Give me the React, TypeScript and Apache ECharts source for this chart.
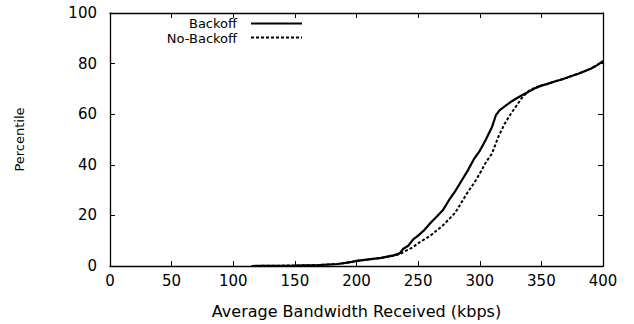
import React, { useEffect, useRef } from "react";
import * as echarts from "echarts";

const xTicks = [0, 50, 100, 150, 200, 250, 300, 350, 400];
const yTicks = [0, 20, 40, 60, 80, 100];

const backoffX = [115, 130, 150, 170, 185, 195, 200, 210, 220, 230, 235, 238, 242, 246, 250, 255, 260, 265, 270, 275, 280, 285, 290, 295, 300, 305, 310, 313, 316, 320, 325, 330, 335, 340, 345, 350, 355, 360, 365, 370, 375, 380, 385, 390, 395, 400];
const backoffY = [0, 0.1, 0.2, 0.4, 0.8, 1.5, 2, 2.6, 3.2, 4.2, 5, 6.8, 8, 10.5, 12, 14.2, 17, 19.5, 22, 26, 29.5, 33.5, 37.5, 42, 45.5, 50, 55, 59.5, 61.5, 63, 64.8, 66.3, 67.7, 69, 70.3, 71.3, 72, 72.8, 73.5, 74.3, 75.2, 76, 77, 78, 79.3, 81];

const noBackoffX = [115, 130, 150, 170, 185, 195, 200, 210, 220, 230, 235, 238, 242, 246, 250, 255, 260, 265, 270, 275, 280, 285, 290, 295, 300, 305, 310, 315, 320, 325, 330, 335, 340, 345, 350, 355, 360, 365, 370, 375, 380, 385, 390, 395, 400];
const noBackoffY = [0, 0.1, 0.2, 0.4, 0.8, 1.5, 2, 2.6, 3.2, 4, 4.7, 5.5, 6.5, 7.5, 9, 10.5, 12, 14, 16, 18.5, 21, 25, 29, 32.5, 36.5, 41, 44.5, 51, 56, 60, 63.5, 67, 69.3, 70.5, 71.3, 72, 72.8, 73.5, 74.3, 75.2, 76, 77, 78, 79.3, 81];

const seriesNames = ["Backoff", "No-Backoff"];

const FONT = "DejaVu Sans";

export default function App() {
  const ref = useRef<HTMLDivElement>(null);
  useEffect(() => {
    if (!ref.current) return;
    const chart = echarts.init(ref.current, null, { renderer: "svg" });
    const pairs = (xs: number[], ys: number[]) => xs.map((x, i) => [x, ys[i]]);
    const axisCommon = {
      type: "value" as const,
      splitLine: { show: false },
      axisLine: { show: true, onZero: false, lineStyle: { color: "#000", width: 1.3 } },
      axisTick: { show: true, inside: true, length: 5, lineStyle: { color: "#000" } },
    };
    chart.setOption({
      animation: false,
      backgroundColor: "#fff",
      grid: { left: 110, right: 31, top: 13, bottom: 46, containLabel: false },
      xAxis: [
        {
          ...axisCommon,
          min: 0,
          max: 400,
          interval: 50,
          position: "bottom",
          name: "Average Bandwidth Received (kbps)",
          nameLocation: "middle",
          nameGap: 37,
          nameTextStyle: { fontFamily: FONT, fontSize: 16, color: "#000" },
          axisLabel: { fontFamily: FONT, fontSize: 15, color: "#000", margin: 7,
            formatter: (v: number) => (xTicks.includes(v) ? String(v) : "") },
        },
        {
          ...axisCommon,
          min: 0,
          max: 400,
          interval: 50,
          position: "top",
          axisLabel: { show: false },
        },
      ],
      yAxis: [
        {
          ...axisCommon,
          min: 0,
          max: 100,
          interval: 20,
          position: "left",
          name: "Percentile",
          nameLocation: "middle",
          nameGap: 84,
          nameTextStyle: { fontFamily: FONT, fontSize: 13, color: "#000" },
          axisLabel: { fontFamily: FONT, fontSize: 15, color: "#000", margin: 13,
            formatter: (v: number) => (yTicks.includes(v) ? String(v) : "") },
        },
        {
          ...axisCommon,
          min: 0,
          max: 100,
          interval: 20,
          position: "right",
          axisLabel: { show: false },
        },
      ],
      series: [
        {
          name: seriesNames[0],
          type: "line",
          xAxisIndex: 0,
          yAxisIndex: 0,
          showSymbol: false,
          symbol: "none",
          data: pairs(backoffX, backoffY),
          lineStyle: { color: "#000", width: 2.2 },
        },
        {
          name: seriesNames[1],
          type: "line",
          xAxisIndex: 0,
          yAxisIndex: 0,
          showSymbol: false,
          symbol: "none",
          data: pairs(noBackoffX, noBackoffY),
          lineStyle: { color: "#000", width: 2, type: [3, 2] },
        },
      ],
      graphic: [
        {
          type: "text",
          x: 237,
          y: 23,
          style: { text: seriesNames[0], fontFamily: FONT, fontSize: 13, lineHeight: 12, fill: "#000", align: "right", verticalAlign: "middle" },
        },
        {
          type: "text",
          x: 237,
          y: 38,
          style: { text: seriesNames[1], fontFamily: FONT, fontSize: 13, lineHeight: 12, fill: "#000", align: "right", verticalAlign: "middle" },
        },
        {
          type: "line",
          shape: { x1: 251, y1: 23.5, x2: 302, y2: 23.5 },
          style: { stroke: "#000", lineWidth: 2.2 },
        },
        {
          type: "line",
          shape: { x1: 251, y1: 37.5, x2: 302, y2: 37.5 },
          style: { stroke: "#000", lineWidth: 2, lineDash: [3, 2] },
        },
      ],
    });
    return () => chart.dispose();
  }, []);
  return <div ref={ref} style={{ width: 634, height: 324, position: "absolute", left: 0, top: 0 }} />;
}
